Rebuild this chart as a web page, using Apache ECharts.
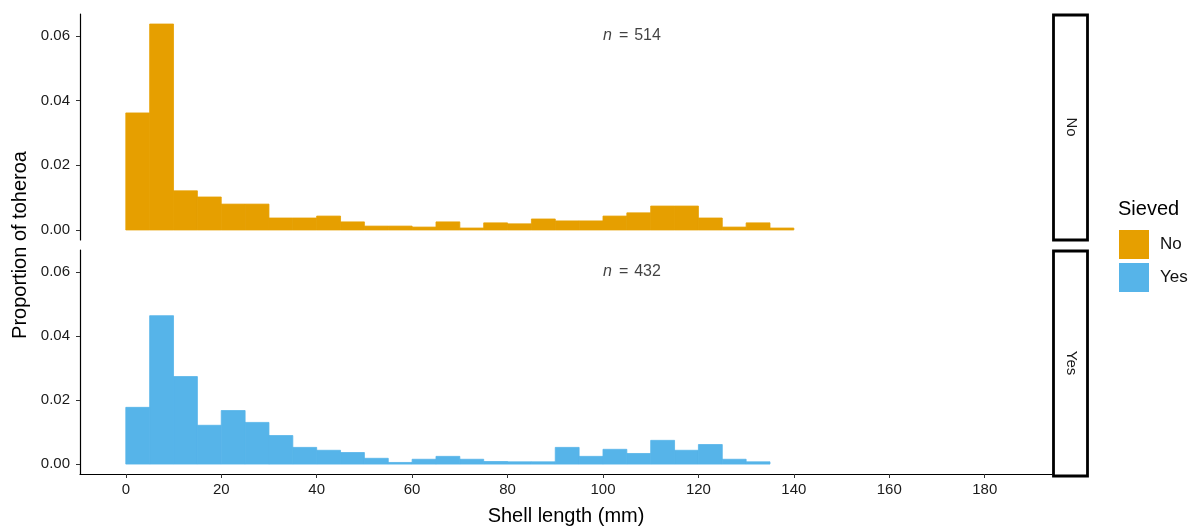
<!DOCTYPE html>
<html>
<head>
<meta charset="utf-8">
<script src="https://cdn.jsdelivr.net/npm/echarts@6/dist/echarts.min.js"></script>
<style>
  html, body { margin: 0; padding: 0; background: #fff; }
  #chart { width: 1189px; height: 527px; }
</style>
</head>
<body>
<div id="chart"></div>
<script>
// ---- data ----
const binWidth = 5;
const panels = ['No', 'Yes'];
const nLabels = ['514', '432'];
const propNo = [0.0362, 0.0637, 0.0121, 0.0102, 0.0080, 0.0080, 0.0037, 0.0037, 0.0043, 0.0025,
                0.0012, 0.0012, 0.0009, 0.0025, 0.0006, 0.0022, 0.0019, 0.0034, 0.0028, 0.0028,
                0.0043, 0.0053, 0.0074, 0.0074, 0.0037, 0.0009, 0.0022, 0.0006];
const propYes = [0.0177, 0.0463, 0.0273, 0.0121, 0.0167, 0.0130, 0.0089, 0.0052, 0.0043, 0.0036,
                 0.0018, 0.0005, 0.0015, 0.0024, 0.0015, 0.0008, 0.0007, 0.0007, 0.0052, 0.0024,
                 0.0046, 0.0033, 0.0074, 0.0043, 0.0061, 0.0015, 0.0007];
const xTicks = [0, 20, 40, 60, 80, 100, 120, 140, 160, 180];
const yTicks = [0, 0.02, 0.04, 0.06];
const colors = ['#E69F00', '#56B4E9'];

// ---- chart ----
const font = '"Liberation Sans", Arial, Helvetica, sans-serif';
const chart = echarts.init(document.getElementById('chart'), null, { renderer: 'canvas' });

function toBins(arr) {
  return arr.map((v, i) => [i * binWidth, (i + 1) * binWidth, v]);
}

const grids = [
  { left: 80, top: 14, width: 972, height: 226 },
  { left: 80, top: 250, width: 972, height: 226 }
];

const xMin = -9.6, xMax = 194.1, yMin = -0.0031, yMax = 0.0668;

const xAxes = [0, 1].map(i => ({
  type: 'value', gridIndex: i, min: xMin, max: xMax,
  show: i === 1,
  splitLine: { show: false },
  axisLine: { show: true, onZero: false, lineStyle: { color: '#000', width: 1.2 } },
  axisTick: { show: true, length: 4, customValues: xTicks, lineStyle: { color: '#333' } },
  axisLabel: { customValues: xTicks, fontSize: 15, color: '#1a1a1a', fontFamily: font, margin: 8 },
  name: i === 1 ? 'Shell length (mm)' : '',
  nameLocation: 'middle', nameGap: 32,
  nameTextStyle: { fontSize: 20, color: '#000', fontFamily: font }
}));

const yAxes = [0, 1].map(i => ({
  type: 'value', gridIndex: i, min: yMin, max: yMax,
  splitLine: { show: false },
  axisLine: { show: true, onZero: false, lineStyle: { color: '#000', width: 1.2 } },
  axisTick: { show: true, length: 4, customValues: yTicks, lineStyle: { color: '#333' } },
  axisLabel: { customValues: yTicks, fontSize: 15, color: '#1a1a1a', fontFamily: font, margin: 10,
               formatter: v => v.toFixed(2) }
}));

function histSeries(name, arr, idx) {
  return {
    name: name,
    type: 'custom',
    xAxisIndex: idx, yAxisIndex: idx,
    itemStyle: { color: colors[idx] },
    data: toBins(arr),
    encode: { x: [0, 1], y: 2 },
    renderItem: function (params, api) {
      const p0 = api.coord([api.value(0), api.value(2)]);
      const p1 = api.coord([api.value(1), 0]);
      return {
        type: 'rect',
        shape: { x: p0[0], y: p0[1], width: p1[0] - p0[0], height: p1[1] - p0[1] },
        style: { fill: colors[idx], stroke: colors[idx], lineWidth: 0.8 }
      };
    }
  };
}

function nSeries(idx) {
  return {
    type: 'scatter', xAxisIndex: idx, yAxisIndex: idx,
    symbolSize: 0, silent: true,
    data: [[100, 0.06]],
    label: {
      show: true, position: 'right', distance: 0,
      formatter: '{i|n}{e|=}{t|' + nLabels[idx] + '}',
      rich: {
        i: { fontStyle: 'italic', fontSize: 16, color: '#111', fontFamily: font },
        e: { fontSize: 16, color: '#111', fontFamily: font, padding: [0, 6, 0, 7] },
        t: { fontSize: 16, color: '#111', fontFamily: font }
      }
    }
  };
}

const stripGraphics = [];
panels.forEach((p, i) => {
  const g = grids[i];
  stripGraphics.push({
    type: 'rect',
    shape: { x: 1053.5, y: g.top + 1, width: 34, height: g.height - 1 },
    style: { fill: '#fff', stroke: '#000', lineWidth: 2.8 }
  });
  stripGraphics.push({
    type: 'text',
    x: 1071, y: g.top + g.height / 2,
    rotation: -Math.PI / 2,
    style: { text: p, fontSize: 15, fill: '#1a1a1a', fontFamily: font, align: 'center', verticalAlign: 'middle' }
  });
});

chart.setOption({
  backgroundColor: '#fff',
  animation: false,
  grid: grids,
  xAxis: xAxes,
  yAxis: yAxes,
  legend: {
    data: panels,
    orient: 'vertical',
    left: 1119, top: 230,
    itemWidth: 30, itemHeight: 29, itemGap: 4,
    icon: 'rect',
    textStyle: { fontSize: 17, color: '#111', fontFamily: font, padding: [0, 0, 0, 6] },
    selectedMode: false,
    padding: 0
  },
  graphic: stripGraphics.concat([
    {
      type: 'text', x: 1118, y: 209,
      style: { text: 'Sieved', fontSize: 20, fill: '#000', fontFamily: font, align: 'left', verticalAlign: 'middle' }
    },
    {
      type: 'text', x: 20, y: 245, rotation: Math.PI / 2,
      style: { text: 'Proportion of toheroa', fontSize: 20, fill: '#000', fontFamily: font, align: 'center', verticalAlign: 'middle' }
    }
  ]),
  series: [
    histSeries('No', propNo, 0),
    histSeries('Yes', propYes, 1),
    nSeries(0),
    nSeries(1)
  ]
});
</script>
</body>
</html>
